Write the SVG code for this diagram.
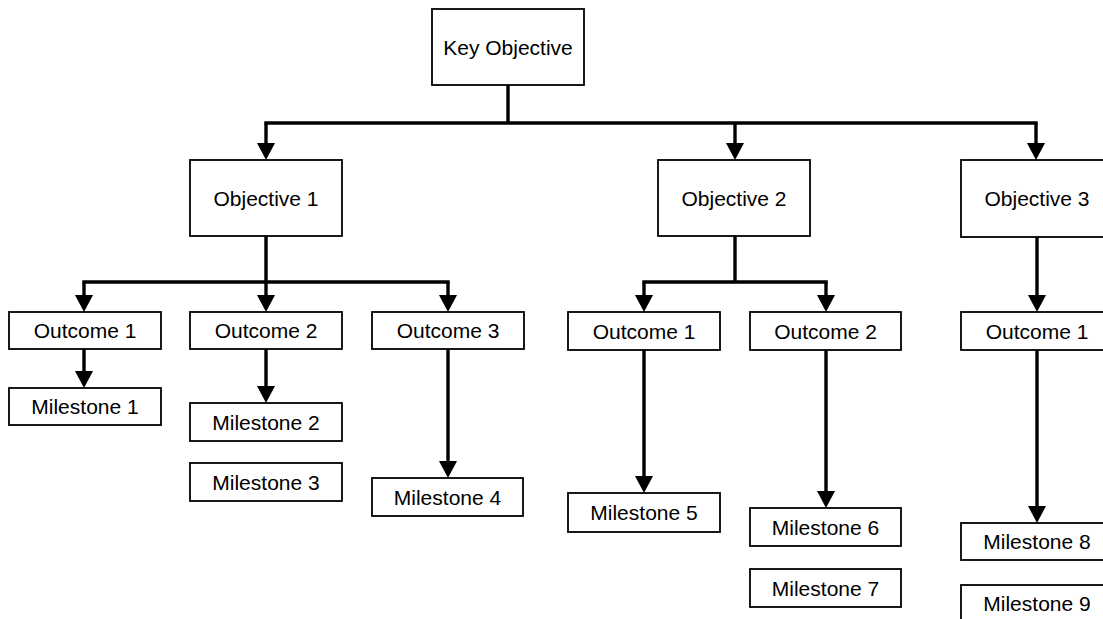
<svg xmlns="http://www.w3.org/2000/svg" width="1103" height="619" viewBox="0 0 1103 619">
<style>
.box{fill:#fff;stroke:#000;stroke-width:1.8}
.t{font-family:"Liberation Sans",Arial,sans-serif;font-size:21px;text-anchor:middle;fill:#000}
.c{fill:none;stroke:#000;stroke-width:3.4}
</style>
<defs>
<marker id="ah" viewBox="0 0 17 18" refX="13" refY="9" markerWidth="17" markerHeight="18" markerUnits="userSpaceOnUse" orient="auto">
<path d="M0,0 L17,9 L0,18 z" fill="#000"/>
</marker>
</defs>
<rect width="1103" height="619" fill="#fff"/>
<g id="connectors">
<path class="c" d="M508,85 V123 M264.3,123 H1037.7 M266,236 V282 M82.3,282 H449.7 M735,236 V282 M642.3,282 H827.7"/>
<path class="c" marker-end="url(#ah)" d="M266,123 V156"/>
<path class="c" marker-end="url(#ah)" d="M735,123 V156"/>
<path class="c" marker-end="url(#ah)" d="M1036,123 V156"/>
<path class="c" marker-end="url(#ah)" d="M84,282 V308"/>
<path class="c" marker-end="url(#ah)" d="M266,282 V308"/>
<path class="c" marker-end="url(#ah)" d="M448,282 V308"/>
<path class="c" marker-end="url(#ah)" d="M644,282 V308"/>
<path class="c" marker-end="url(#ah)" d="M826,282 V308"/>
<path class="c" marker-end="url(#ah)" d="M1037,237 V308"/>
<path class="c" marker-end="url(#ah)" d="M84,349 V384"/>
<path class="c" marker-end="url(#ah)" d="M266,349 V399"/>
<path class="c" marker-end="url(#ah)" d="M448,349 V474"/>
<path class="c" marker-end="url(#ah)" d="M644,350 V489"/>
<path class="c" marker-end="url(#ah)" d="M826,350 V504"/>
<path class="c" marker-end="url(#ah)" d="M1037,350 V519"/>
</g>
<g id="key"><rect class="box" x="432" y="9" width="152" height="76"/><text class="t" x="508" y="54.5">Key Objective</text></g>
<g id="obj1"><rect class="box" x="190" y="160" width="152" height="76"/><text class="t" x="266" y="205.5">Objective 1</text></g>
<g id="obj2"><rect class="box" x="658" y="160" width="152" height="76"/><text class="t" x="734" y="205.5">Objective 2</text></g>
<g id="obj3"><rect class="box" x="961" y="160" width="152" height="77"/><text class="t" x="1037" y="205.5">Objective 3</text></g>
<g id="o1-1"><rect class="box" x="9" y="312" width="152" height="37"/><text class="t" x="85" y="338">Outcome 1</text></g>
<g id="o1-2"><rect class="box" x="190" y="312" width="152" height="37"/><text class="t" x="266" y="338">Outcome 2</text></g>
<g id="o1-3"><rect class="box" x="372" y="312" width="152" height="37"/><text class="t" x="448" y="338">Outcome 3</text></g>
<g id="o2-1"><rect class="box" x="568" y="312" width="152" height="38"/><text class="t" x="644" y="338.5">Outcome 1</text></g>
<g id="o2-2"><rect class="box" x="750" y="312" width="151" height="38"/><text class="t" x="825.5" y="338.5">Outcome 2</text></g>
<g id="o3-1"><rect class="box" x="961" y="312" width="152" height="38"/><text class="t" x="1037" y="338.5">Outcome 1</text></g>
<g id="m1"><rect class="box" x="9" y="388" width="152" height="37"/><text class="t" x="85" y="414">Milestone 1</text></g>
<g id="m2"><rect class="box" x="190" y="403" width="152" height="38"/><text class="t" x="266" y="429.5">Milestone 2</text></g>
<g id="m3"><rect class="box" x="190" y="463" width="152" height="38"/><text class="t" x="266" y="489.5">Milestone 3</text></g>
<g id="m4"><rect class="box" x="372" y="478" width="151" height="38"/><text class="t" x="447.5" y="504.5">Milestone 4</text></g>
<g id="m5"><rect class="box" x="568" y="493" width="152" height="39"/><text class="t" x="644" y="520">Milestone 5</text></g>
<g id="m6"><rect class="box" x="750" y="508" width="151" height="38"/><text class="t" x="825.5" y="534.5">Milestone 6</text></g>
<g id="m7"><rect class="box" x="750" y="569" width="151" height="38"/><text class="t" x="825.5" y="595.5">Milestone 7</text></g>
<g id="m8"><rect class="box" x="961" y="523" width="152" height="37"/><text class="t" x="1037" y="549">Milestone 8</text></g>
<g id="m9"><rect class="box" x="961" y="585" width="152" height="40"/><text class="t" x="1037" y="611">Milestone 9</text></g>
</svg>
